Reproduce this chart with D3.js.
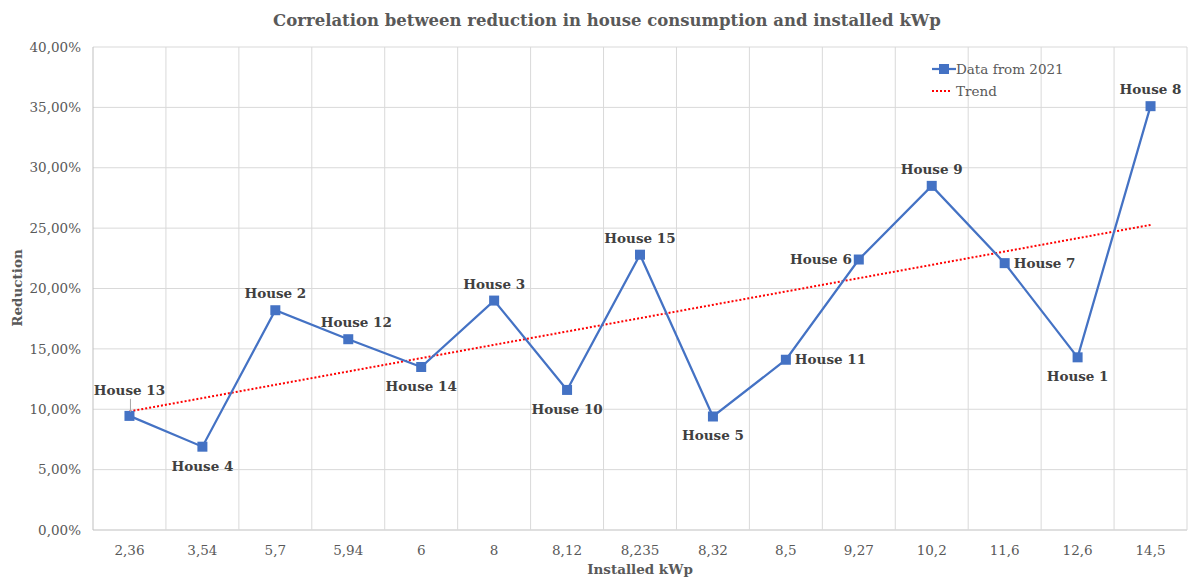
<!DOCTYPE html>
<html>
<head>
<meta charset="utf-8">
<script src="https://cdn.jsdelivr.net/npm/d3@7"></script>
<style>
  body { margin: 0; background: #fff; }
  svg text { font-family: "DejaVu Serif", serif; }
</style>
</head>
<body>
<svg id="chart" width="1194" height="578"></svg>
<script>
// data
var kwp = ["2,36", "3,54", "5,7", "5,94", "6", "8", "8,12", "8,235", "8,32", "8,5", "9,27", "10,2", "11,6", "12,6", "14,5"];
var houses = ["House 13", "House 4", "House 2", "House 12", "House 14", "House 3", "House 10", "House 15",
              "House 5", "House 11", "House 6", "House 9", "House 7", "House 1", "House 8"];
var reduction = [0.0945, 0.069, 0.182, 0.158, 0.135, 0.190, 0.116, 0.228, 0.094, 0.141, 0.224, 0.285, 0.221, 0.143, 0.351];
var labelSide = ["aboveLeader", "below", "above", "aboveRight", "below", "above", "below", "above",
                 "below", "right", "left", "above", "right", "below", "above"];
var yTicks = [0, 0.05, 0.10, 0.15, 0.20, 0.25, 0.30, 0.35, 0.40];

var svg = d3.select("#chart");
var margin = {top: 47, right: 7, bottom: 48, left: 93};
var width = 1194 - margin.left - margin.right,
    height = 578 - margin.top - margin.bottom;

var x = d3.scaleBand().domain(kwp).range([0, width]);
var y = d3.scaleLinear().domain([0, 0.4]).range([height, 0]);

var g = svg.append("g").attr("transform", "translate(" + margin.left + "," + margin.top + ")");

// horizontal grid
g.selectAll(".hgrid").data(yTicks).enter().append("line")
  .attr("x1", 0).attr("x2", width)
  .attr("y1", function(d) { return y(d); }).attr("y2", function(d) { return y(d); })
  .style("stroke", function(d) { return d === 0 ? "#bfbfbf" : "#d9d9d9"; })
  .style("stroke-width", 1);

// vertical grid at category boundaries
var bounds = kwp.map(function(d) { return x(d); }).concat([width]);
g.selectAll(".vgrid").data(bounds).enter().append("line")
  .attr("x1", function(d) { return d; }).attr("x2", function(d) { return d; })
  .attr("y1", 0).attr("y2", height)
  .style("stroke", function(d, i) { return i === 0 ? "#bfbfbf" : "#d9d9d9"; })
  .style("stroke-width", 1);

// y axis labels
var fmt = function(d) { return (d * 100).toFixed(2).replace(".", ",") + "%"; };
g.selectAll(".ytick").data(yTicks).enter().append("text")
  .attr("x", -12).attr("y", function(d) { return y(d); })
  .attr("dy", "0.35em").attr("text-anchor", "end")
  .style("font-size", "13.5px").style("fill", "#595959")
  .text(fmt);

// x axis labels
g.selectAll(".xtick").data(kwp).enter().append("text")
  .attr("x", function(d) { return x(d) + x.bandwidth() / 2; })
  .attr("y", height + 25)
  .attr("text-anchor", "middle")
  .style("font-size", "13.5px").style("fill", "#595959")
  .text(function(d) { return d; });

// trend line (least squares on category index)
var n = reduction.length;
var mx = d3.mean(reduction, function(d, i) { return i; });
var my = d3.mean(reduction);
var sxy = d3.sum(reduction, function(d, i) { return (i - mx) * (d - my); });
var sxx = d3.sum(reduction, function(d, i) { return (i - mx) * (i - mx); });
var slope = sxy / sxx, icpt = my - slope * mx;
var cx = function(i) { return x(kwp[i]) + x.bandwidth() / 2; };

g.append("line")
  .attr("x1", cx(0)).attr("y1", y(icpt))
  .attr("x2", cx(n - 1)).attr("y2", y(icpt + slope * (n - 1)))
  .style("stroke", "#ff0000").style("stroke-width", 2)
  .style("stroke-dasharray", "2,2");

// data line
var line = d3.line()
  .x(function(d, i) { return cx(i); })
  .y(function(d) { return y(d); });

g.append("path").datum(reduction)
  .attr("d", line)
  .style("fill", "none").style("stroke", "#4472c4").style("stroke-width", 2.25);

g.selectAll(".pt").data(reduction).enter().append("rect")
  .attr("x", function(d, i) { return cx(i) - 5; })
  .attr("y", function(d) { return y(d) - 5; })
  .attr("width", 10).attr("height", 10)
  .style("fill", "#4472c4");

// point labels
var off = {
  above: [0, -12, "middle"], below: [0, 24, "middle"],
  right: [9, 0, "start"], left: [-7, 0, "end"],
  aboveRight: [8, -12, "middle"],
  aboveLeader: [0, -21, "middle"]
};
g.selectAll(".lbl").data(reduction).enter().append("text")
  .attr("x", function(d, i) { return cx(i) + off[labelSide[i]][0]; })
  .attr("y", function(d, i) { return y(d) + off[labelSide[i]][1]; })
  .attr("dy", function(d, i) { var s = labelSide[i]; return (s === "left" || s === "right") ? "0.35em" : "0"; })
  .attr("text-anchor", function(d, i) { return off[labelSide[i]][2]; })
  .style("font-size", "13.5px").style("font-weight", "bold").style("fill", "#404040")
  .text(function(d, i) { return houses[i]; });

// leader line for House 13
g.append("line")
  .attr("x1", cx(0) + 1).attr("x2", cx(0) + 1)
  .attr("y1", y(reduction[0]) - 17).attr("y2", y(reduction[0]) - 4)
  .style("stroke", "#a6a6a6").style("stroke-width", 1);

// legend
var lg = svg.append("g").attr("transform", "translate(932,69)");
lg.append("line").attr("x1", 0).attr("x2", 24).attr("y1", 0).attr("y2", 0)
  .style("stroke", "#4472c4").style("stroke-width", 2.25);
lg.append("rect").attr("x", 7).attr("y", -5).attr("width", 10).attr("height", 10).style("fill", "#4472c4");
lg.append("text").attr("x", 24).attr("y", 0).attr("dy", "0.35em")
  .style("font-size", "13.5px").style("fill", "#595959").text("Data from 2021");
lg.append("line").attr("x1", 0).attr("x2", 20).attr("y1", 22).attr("y2", 22)
  .style("stroke", "#ff0000").style("stroke-width", 2).style("stroke-dasharray", "2,2");
lg.append("text").attr("x", 24).attr("y", 22).attr("dy", "0.35em")
  .style("font-size", "13.5px").style("fill", "#595959").text("Trend");

// title and axis titles
svg.append("text").attr("x", 607).attr("y", 26).attr("text-anchor", "middle")
  .style("font-size", "16.5px").style("font-weight", "bold").style("fill", "#595959")
  .text("Correlation between reduction in house consumption and installed kWp");

svg.append("text").attr("x", 640).attr("y", 574).attr("text-anchor", "middle")
  .style("font-size", "13.5px").style("font-weight", "bold").style("fill", "#595959")
  .text("Installed kWp");

svg.append("text").attr("transform", "translate(22,288) rotate(-90)").attr("text-anchor", "middle")
  .style("font-size", "13.5px").style("font-weight", "bold").style("fill", "#595959")
  .text("Reduction");
</script>
</body>
</html>
